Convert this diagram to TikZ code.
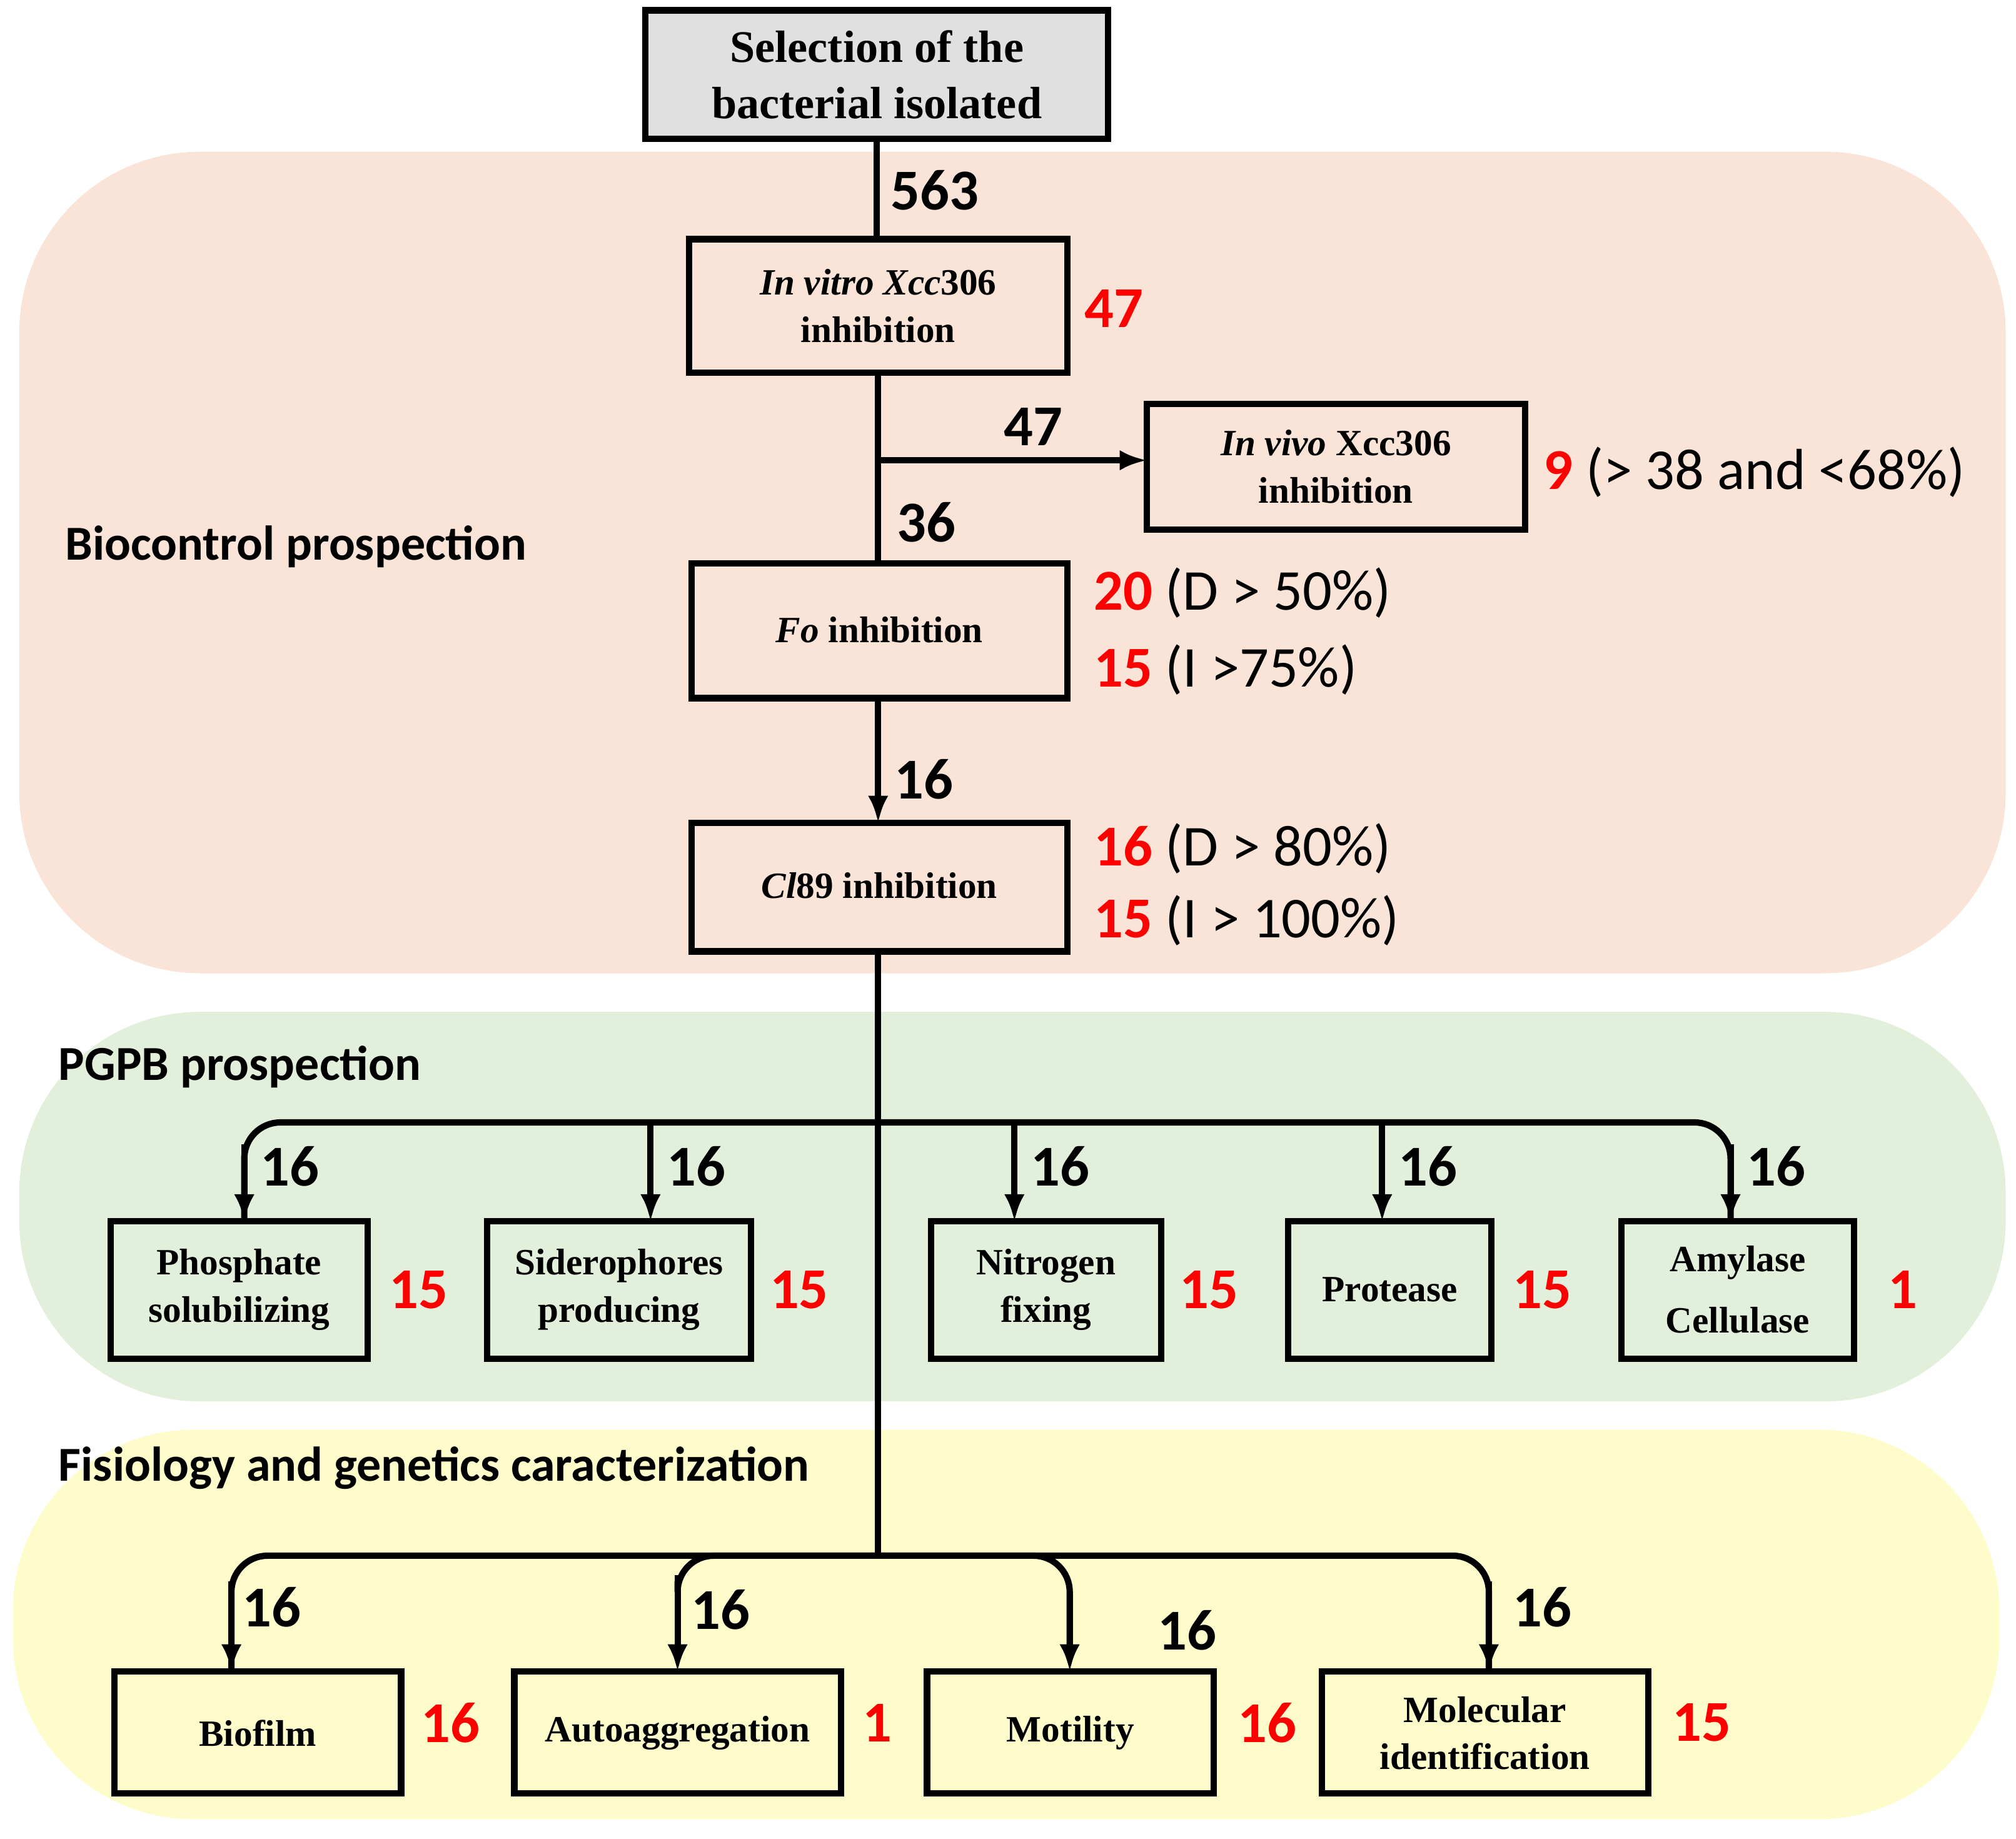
\documentclass[tikz,border=0pt]{standalone}
\usepackage{fontspec}
\setmainfont{Liberation Serif}
\newfontfamily\carl{Carlito}
\usetikzlibrary{arrows.meta}
\definecolor{bgA}{HTML}{FAE3D7}
\definecolor{bgB}{HTML}{E2EFDA}
\definecolor{bgC}{HTML}{FFFCCC}
\definecolor{rd}{HTML}{FF0000}
\begin{document}
\begin{tikzpicture}[x=0.1mm,y=-0.1mm,
  num/.style={font=\carl\fontsize{12.8}{15}\selectfont\bfseries,inner sep=0,anchor=west},
  red/.style={num,text=rd},
  txt/.style={font=\carl\fontsize{12.8}{15}\selectfont,inner sep=0,anchor=west},
  sec/.style={font=\carl\fontsize{10.8}{13}\selectfont\bfseries,inner sep=0,anchor=west},
  lbl/.style={font=\fontsize{8.2}{10.5}\selectfont\bfseries,align=center},
  bx/.style={line width=1.4pt},
  ln/.style={line width=1.4pt},
  ar/.style={ln,-{Latex[length=6pt,width=4.5pt]}}]
\useasboundingbox (0,0) rectangle (1568,1430);
\fill[bgA,rounded corners=40] (15,118) rectangle (1560,757);
\fill[bgB,rounded corners=40] (15,787) rectangle (1560,1090);
\fill[bgC,rounded corners=40] (10,1112) rectangle (1555,1415);
\node[sec] at (50,425) {Biocontrol prospection};
\node[sec] at (45,830) {PGPB prospection};
\node[sec] at (45,1142) {Fisiology and genetics caracterization};
% boxes
\draw[bx,fill=black!12] (502,8) rectangle (862,108);
\node[font=\fontsize{10}{12.5}\selectfont\bfseries,align=center] (selt) at (682,58) {Selection of the\\bacterial isolated};
\coordinate (selb) at (682,108);
\draw[bx] (536,186) rectangle (830,290);
\node[lbl] (iv) at (683,238) {\textit{In vitro Xcc}306\\inhibition};
\coordinate (ivt) at (682,186); \coordinate (ivb) at (683,290);
\draw[bx] (892,314) rectangle (1186,412);
\node[lbl] (vv) at (1039,363) {\textit{In vivo} Xcc306\\inhibition};
\coordinate (vvl) at (892,358);
\draw[bx] (538,438) rectangle (830,543);
\node[lbl] (fo) at (684,490) {\textit{Fo} inhibition};
\coordinate (fot) at (683,438); \coordinate (fob) at (683,543);
\draw[bx] (538,640) rectangle (830,740);
\node[lbl] (cl) at (684,689) {\textit{Cl}89 inhibition};
\coordinate (clt) at (683,640); \coordinate (clb) at (683,740);
\draw[ln] (selb) -- (ivt);
\draw[ln] (ivb) -- (fot);
\coordinate (br) at (683,358);
\draw[ar] (br) -- (vvl);
\draw[ar] (fob) -- (clt);
\node[num] at (692,148) {563};
\node[red] at (843,240) {47};
\node[num] at (780,332) {47};
\node[num] at (697,406) {36};
\node[num] at (695,606) {16};
\node[txt] at (1200,367) {\textbf{\textcolor{rd}{9}} (> 38 and <68\%)};
\node[txt] at (850,461) {\textbf{\textcolor{rd}{20}} (D > 50\%)};
\node[txt] at (850,521) {\textbf{\textcolor{rd}{15}} (I >75\%)};
\node[txt] at (850,660) {\textbf{\textcolor{rd}{16}} (D > 80\%)};
\node[txt] at (850,716) {\textbf{\textcolor{rd}{15}} (I > 100\%)};
% PGPB
\coordinate (j2) at (683,1210);
\draw[ln] (clb) -- (j2);
\foreach \n/\xa/\xb/\xc/\t/\r/\rx in {
 p/86/286/190/{Phosphate\\solubilizing}/15/302,
 s/379/584/506/{Siderophores\\producing}/15/598,
 n/724/903/789/{Nitrogen\\fixing}/15/917,
 pr/1002/1160/1075/{Protease}/15/1176,
 a/1261/1442/1346/{Amylase\\[3pt]Cellulase}/1/1468}{
  \draw[bx] (\xa,950) rectangle (\xb,1057);
  \node[lbl] (b\n) at ({(\xa+\xb)/2},1003) {\t};
  \coordinate (t\n) at (\xc,950);
  \node[red] at (\rx,1003) {\r};
  \node[num] at (\xc+12,907) {16};
}
\draw[ln,rounded corners=8] (tp) -- (190,873) -- (1346,873) -- (ta);
\draw[ar] (190,890) -- (tp);
\draw[ar] (506,873) -- (ts);
\draw[ar] (789,873) -- (tn);
\draw[ar] (1075,873) -- (tpr);
\draw[ar] (1346,890) -- (ta);
% Fisiology
\foreach \n/\xa/\xb/\xc/\t/\r/\rx in {
 bi/89/312/180/{Biofilm}/16/327,
 au/400/654/527/{Autoaggregation}/1/670,
 mo/721/944/832/{Motility}/16/962,
 me/1028/1282/1158/{Molecular\\identification}/15/1300}{
  \draw[bx] (\xa,1300) rectangle (\xb,1395);
  \node[lbl] (b\n) at ({(\xa+\xb)/2},1348) {\t};
  \coordinate (t\n) at (\xc,1300);
  \node[red] at (\rx,1340) {\r};
}
\node[num] at (188,1250) {16};
\node[num] at (537,1252) {16};
\node[num] at (900,1268) {16};
\node[num] at (1176,1250) {16};
\draw[ln,rounded corners=8] (tbi) -- (180,1210) -- (1158,1210) -- (tme);
\draw[ar] (180,1230) -- (tbi);
\draw[ar,rounded corners=8] (527,1230) -- (527,1210) -- (832,1210) -- (tmo);
\draw[ar] (527,1225) -- (tau);
\draw[ar] (1158,1230) -- (tme);
\end{tikzpicture}
\end{document}
